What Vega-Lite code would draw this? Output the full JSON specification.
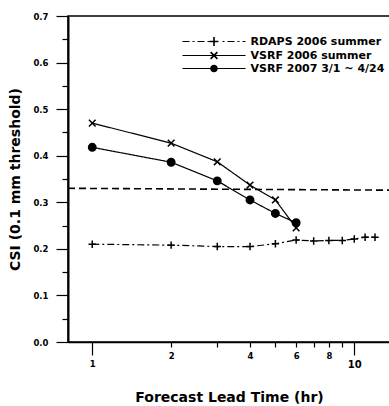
{
  "$schema": "https://vega.github.io/schema/vega-lite/v6.json",
  "width": 322,
  "height": 326,
  "autosize": {"type": "none"},
  "padding": {"left": 68, "top": 16, "right": 0, "bottom": 64},
  "background": "white",
  "config": {
    "font": "DejaVu Sans",
    "view": {"stroke": "black", "strokeWidth": 1.5},
    "axis": {"grid": false, "domainColor": "black", "tickColor": "black", "labelColor": "black", "titleColor": "black", "labelFont": "DejaVu Sans", "titleFont": "DejaVu Sans", "labelFontWeight": "bold", "titleFontWeight": "bold"},
    "legend": {"labelFont": "DejaVu Sans", "labelFontWeight": "bold", "labelFontSize": 11, "labelColor": "black"}
  },
  "resolve": {"scale": {"shape": "independent"}},
  "datasets": {
    "csi": [
      {"series": "RDAPS 2006 summer", "hour": 1, "csi": 0.210},
      {"series": "RDAPS 2006 summer", "hour": 2, "csi": 0.208},
      {"series": "RDAPS 2006 summer", "hour": 3, "csi": 0.205},
      {"series": "RDAPS 2006 summer", "hour": 4, "csi": 0.205},
      {"series": "RDAPS 2006 summer", "hour": 5, "csi": 0.211},
      {"series": "RDAPS 2006 summer", "hour": 6, "csi": 0.219},
      {"series": "RDAPS 2006 summer", "hour": 7, "csi": 0.217},
      {"series": "RDAPS 2006 summer", "hour": 8, "csi": 0.218},
      {"series": "RDAPS 2006 summer", "hour": 9, "csi": 0.218},
      {"series": "RDAPS 2006 summer", "hour": 10, "csi": 0.221},
      {"series": "RDAPS 2006 summer", "hour": 11, "csi": 0.225},
      {"series": "RDAPS 2006 summer", "hour": 12, "csi": 0.225},
      {"series": "VSRF 2006 summer", "hour": 1, "csi": 0.470},
      {"series": "VSRF 2006 summer", "hour": 2, "csi": 0.427},
      {"series": "VSRF 2006 summer", "hour": 3, "csi": 0.387},
      {"series": "VSRF 2006 summer", "hour": 4, "csi": 0.337},
      {"series": "VSRF 2006 summer", "hour": 5, "csi": 0.305},
      {"series": "VSRF 2006 summer", "hour": 6, "csi": 0.245},
      {"series": "VSRF 2007 3/1 ~ 4/24", "hour": 1, "csi": 0.418},
      {"series": "VSRF 2007 3/1 ~ 4/24", "hour": 2, "csi": 0.386},
      {"series": "VSRF 2007 3/1 ~ 4/24", "hour": 3, "csi": 0.346},
      {"series": "VSRF 2007 3/1 ~ 4/24", "hour": 4, "csi": 0.305},
      {"series": "VSRF 2007 3/1 ~ 4/24", "hour": 5, "csi": 0.276},
      {"series": "VSRF 2007 3/1 ~ 4/24", "hour": 6, "csi": 0.256}
    ],
    "threshold": [
      {"hour": 0.808, "csi": 0.330},
      {"hour": 13.69, "csi": 0.326}
    ]
  },
  "encoding": {
    "x": {
      "field": "hour", "type": "quantitative",
      "scale": {"type": "log", "domain": [0.808, 13.69], "nice": false},
      "axis": {
        "values": [1, 2, 3, 4, 5, 6, 7, 8, 9, 10],
        "format": "d",
        "labelExpr": "indexof([1,2,4,6,8,10], datum.value) >= 0 ? datum.label : ''",
        "tickSize": {"condition": {"test": "datum.value == 1 || datum.value == 10", "value": 13}, "value": 5},
        "labelPadding": 4,
        "labelFontSize": {"condition": {"test": "datum.value == 10", "value": 10}, "value": 8.5},
        "domainWidth": 1.5,
        "tickWidth": 1.2,
        "title": "Forecast Lead Time (hr)",
        "titleFontSize": 14,
        "titlePadding": 21
      }
    },
    "y": {
      "field": "csi", "type": "quantitative",
      "scale": {"domain": [0, 0.7], "nice": false, "zero": false},
      "axis": {
        "values": [0, 0.05, 0.1, 0.15, 0.2, 0.25, 0.3, 0.35, 0.4, 0.45, 0.5, 0.55, 0.6, 0.65, 0.7],
        "format": ".1f",
        "labelExpr": "round(datum.value*100) % 10 == 0 ? datum.label : ''",
        "tickSize": {"condition": {"test": "round(datum.value*100) % 10 == 0", "value": 12}, "value": 6},
        "labelPadding": 8,
        "labelFontSize": 8.5,
        "domainWidth": 2,
        "tickWidth": 1.2,
        "title": "CSI (0.1 mm threshold)",
        "titleFontSize": 14,
        "titlePadding": 10
      }
    }
  },
  "layer": [
    {
      "data": {"name": "threshold"},
      "mark": {"type": "line", "color": "black", "strokeDash": [7, 4], "strokeWidth": 1.6, "clip": true},
      "encoding": {}
    },
    {
      "data": {"name": "csi"},
      "mark": {"type": "line", "color": "black", "strokeWidth": 1.2},
      "encoding": {
        "strokeDash": {
          "field": "series", "type": "nominal",
          "scale": {"domain": ["RDAPS 2006 summer", "VSRF 2006 summer", "VSRF 2007 3/1 ~ 4/24", "none"], "range": [[7, 3, 2, 3], [1, 0], [1, 0], [1, 0]]},
          "legend": null
        }
      }
    },
    {
      "data": {"name": "csi"},
      "mark": {"type": "point", "filled": true, "fill": "black", "stroke": "black", "strokeWidth": 1.5, "size": 55, "opacity": 1},
      "encoding": {
        "shape": {
          "field": "series", "type": "nominal",
          "scale": {"domain": ["RDAPS 2006 summer", "VSRF 2006 summer", "VSRF 2007 3/1 ~ 4/24", "none"], "range": ["M-1,0L1,0M0,-1L0,1", "M-0.9,-0.9L0.9,0.9M-0.9,0.9L0.9,-0.9", "circle", "circle"]},
          "legend": null
        }
      }
    },
    {
      "data": {"name": "csi"},
      "transform": [{"filter": "false"}],
      "mark": {"type": "point", "filled": true, "color": "black", "opacity": 1},
      "encoding": {
        "shape": {
          "field": "series", "type": "nominal",
          "scale": {
            "domain": ["RDAPS 2006 summer", "VSRF 2006 summer", "VSRF 2007 3/1 ~ 4/24"],
            "range": [
              "M-7.875,-0.13H-6.125V0.13H-7.875ZM-5.375,-0.13H-4.875V0.13H-5.375ZM-4.125,-0.13H-2.375V0.13H-4.125ZM-1.625,-0.13H-1.125V0.13H-1.625ZM2.125,-0.13H2.625V0.13H2.125ZM3.375,-0.13H5.125V0.13H3.375ZM5.875,-0.13H6.375V0.13H5.875ZM7.125,-0.13H7.875V0.13H7.125ZM-1.1,-0.2H-0.2V-1.1H0.2V-0.2H1.1V0.2H0.2V1.1H-0.2V0.2H-1.1Z",
              "M-7.875,-0.15H7.875V0.15H-7.875ZM-1,-0.7L-0.7,-1L0,-0.3L0.7,-1L1,-0.7L0.3,0L1,0.7L0.7,1L0,0.3L-0.7,1L-1,0.7L-0.3,0Z",
              "M-7.875,-0.15H7.875V0.15H-7.875ZM0.95,0A0.95,0.95,0,1,1,-0.95,0A0.95,0.95,0,1,1,0.95,0Z"
            ]
          },
          "legend": {
            "title": null, "orient": "none", "legendX": 140.5, "legendY": 20,
            "symbolSize": 64, "symbolFillColor": "black", "symbolStrokeColor": "transparent", "symbolStrokeWidth": 1.2, "symbolOpacity": 1,
            "labelOffset": 31, "rowPadding": 0, "padding": 0
          }
        }
      }
    }
  ]
}
